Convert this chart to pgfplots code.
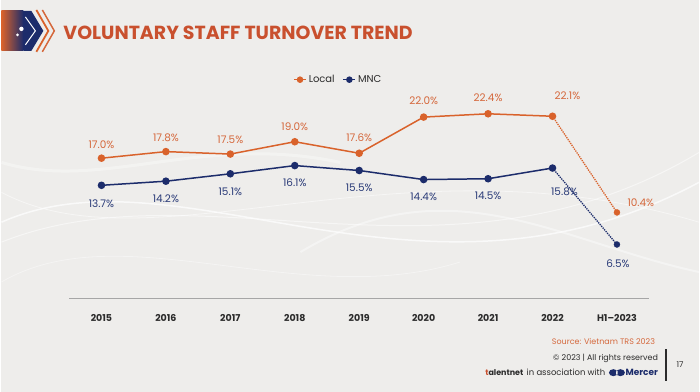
\documentclass[border=0pt]{standalone}
\usepackage{pgfplots}
\pgfplotsset{compat=1.18}
\usepackage{fontspec}
\setmainfont{Poppins}
\definecolor{bg}{HTML}{EEEDEB}
\definecolor{loc}{HTML}{D9622B}
\definecolor{locl}{HTML}{D5683C}
\definecolor{mnc}{HTML}{1C2C6B}
\definecolor{mncl}{HTML}{2A3B78}
\definecolor{ttl}{HTML}{C9502E}
\definecolor{txt}{HTML}{2B2B2B}
\begin{document}
\begin{tikzpicture}[x=1pt,y=1pt]
\fill[bg] (0,0) rectangle (700,393);
% background swooshes
\begin{scope}[white]
\draw[opacity=0.7, line width=1.5pt] (0,170) .. controls (180,250) and (420,60) .. (700,210);
\draw[opacity=0.5, line width=1pt] (0,150) .. controls (200,230) and (450,90) .. (700,240);
\draw[opacity=0.5, line width=0.8pt] (0,200) .. controls (150,120) and (400,260) .. (700,170);
\draw[opacity=0.4, line width=2pt] (300,140) .. controls (450,230) and (560,150) .. (700,120);
\draw[opacity=0.4, line width=0.8pt] (0,110) .. controls (120,180) and (300,80) .. (460,130);
\draw[opacity=0.35, line width=3pt] (0,230) .. controls (100,200) and (200,260) .. (340,230);
\end{scope}
% logo
\shade[left color=loc, right color=mnc] (0,342) rectangle (22,382);
\fill[mnc] (22,342) -- (30,342) -- (42,362) -- (30,382) -- (22,382) -- cycle;
\draw[white, line width=1pt] (24,348) -- (34,362) -- (24,376);
\draw[loc, line width=1.8pt] (35,383) -- (47,362) -- (35,341);
\draw[locl, line width=1.5pt] (41,383) -- (53,362) -- (41,341);
\fill[white] (20,364) circle (2.2pt);
\fill[white] (16,358) circle (1.5pt);
% title
\node[anchor=west, text=ttl, font=\fontsize{19}{22}\selectfont\bfseries, inner sep=0pt] at (62,360) {VOLUNTARY STAFF TURNOVER TREND};
% chart
\begin{axis}[
  at={(68pt,94pt)}, anchor=south west, scale only axis,
  width=582pt, height=206.25pt,
  xmin=-0.5, xmax=8.5, ymin=0, ymax=25,
  axis x line=bottom, axis y line=none,
  axis line style={-, draw=black!35, line width=0.8pt},
  xtick={0,...,8},
  xticklabels={2015,2016,2017,2018,2019,2020,2021,2022,H1–2023},
  major tick length=0pt,
  xticklabel style={font=\fontsize{9.5}{11}\selectfont\bfseries, text=txt, yshift=-13pt},
  /pgf/number format/assume math mode=true,
  clip=false,
  legend style={at={(0.464,1.062)}, anchor=center, draw=none, fill=none,
    legend columns=2, font=\fontsize{10}{12}\selectfont, text=txt,
    /tikz/every even column/.append style={column sep=6pt}},
  legend image code/.code={\draw[#1, line width=1.5pt] (0pt,0pt) -- (12pt,0pt); \fill[#1] (6pt,0pt) circle (2.5pt);},
  nodes near coords={\pgfmathprintnumber[fixed, fixed zerofill, precision=1]{\pgfplotspointmeta}\%},
  point meta=y,
  visualization depends on={value \thisrow{dx} \as \dx},
  visualization depends on={value \thisrow{dy} \as \dy},
]
\addplot[loc, line width=1.5pt, mark=*, mark size=3pt,
  nodes near coords style={anchor=center, xshift=\dx pt, yshift=\dy pt, font=\fontsize{10.5}{12}\selectfont, text=locl}]
  table[x=x, y=y] {
  x y dx dy
  0 17.0 0 14
  1 17.8 0 14
  2 17.5 0 14
  3 19.0 0 15
  4 17.6 0 16
  5 22.0 0 16
  6 22.4 0 16
  7 22.1 15 21
  };
\addlegendentry{Local}
\addplot[mnc, line width=1.5pt, mark=*, mark size=3pt,
  nodes near coords style={anchor=center, xshift=\dx pt, yshift=\dy pt, font=\fontsize{10.5}{12}\selectfont, text=mncl}]
  table[x=x, y=y] {
  x y dx dy
  0 13.7 0 -18
  1 14.2 0 -18
  2 15.1 0 -18
  3 16.1 0 -17
  4 15.5 0 -17
  5 14.4 0 -17
  6 14.5 0 -17
  7 15.8 12 -24
  };
\addlegendentry{MNC}
\addplot[loc, line width=1.3pt, densely dotted, no marks, nodes near coords=, forget plot]
  table[x=x, y=y] {
  x y dx dy
  7 22.1 0 0
  8 10.4 0 0
  };
\addplot[mnc, line width=1.3pt, densely dotted, no marks, nodes near coords=, forget plot]
  table[x=x, y=y] {
  x y dx dy
  7 15.8 0 0
  8 6.5 0 0
  };
\addplot[loc, only marks, mark=*, mark size=3pt, forget plot,
  nodes near coords style={anchor=center, xshift=\dx pt, yshift=\dy pt, font=\fontsize{10.5}{12}\selectfont, text=locl}]
  table[x=x, y=y] {
  x y dx dy
  8 10.4 24 10
  };
\addplot[mnc, only marks, mark=*, mark size=3pt, forget plot,
  nodes near coords style={anchor=center, xshift=\dx pt, yshift=\dy pt, font=\fontsize{10.5}{12}\selectfont, text=mncl}]
  table[x=x, y=y] {
  x y dx dy
  8 6.5 1 -19
  };
\end{axis}
% footer
\node[anchor=east, inner sep=0pt, text=locl, font=\fontsize{8}{10}\selectfont] at (656,50) {Source: Vietnam TRS 2023};
\node[anchor=east, inner sep=0pt, text=txt, font=\fontsize{8}{10}\selectfont] at (659,33) {© 2023 | All rights reserved};
\node[anchor=east, inner sep=0pt, text=mnc, font=\fontsize{9}{11}\selectfont\bfseries] (mer) at (659,19) {Mercer};
\fill[mnc] ([xshift=-12pt]mer.west) ellipse (4.5pt and 3.5pt);
\fill[mnc] ([xshift=-5pt]mer.west) ellipse (4.5pt and 3.5pt);
\fill[bg] ([xshift=-8.5pt]mer.west) ellipse (0.8pt and 2.5pt);
\node[anchor=east, inner sep=0pt, text=txt, font=\fontsize{8.5}{10}\selectfont] (ass) at ([xshift=-20pt]mer.west) {in association with};
\node[anchor=east, inner sep=0pt, font=\fontsize{8}{10}\selectfont\bfseries] at ([xshift=-3pt]ass.west) {\textcolor{ttl}{t}\textcolor{txt}{alentnet}};
\draw[txt, line width=1.5pt] (667,11) -- (667,43);
\node[anchor=center, inner sep=0pt, text=txt, font=\fontsize{8}{10}\selectfont] at (681,27) {17};
\end{tikzpicture}
\end{document}
